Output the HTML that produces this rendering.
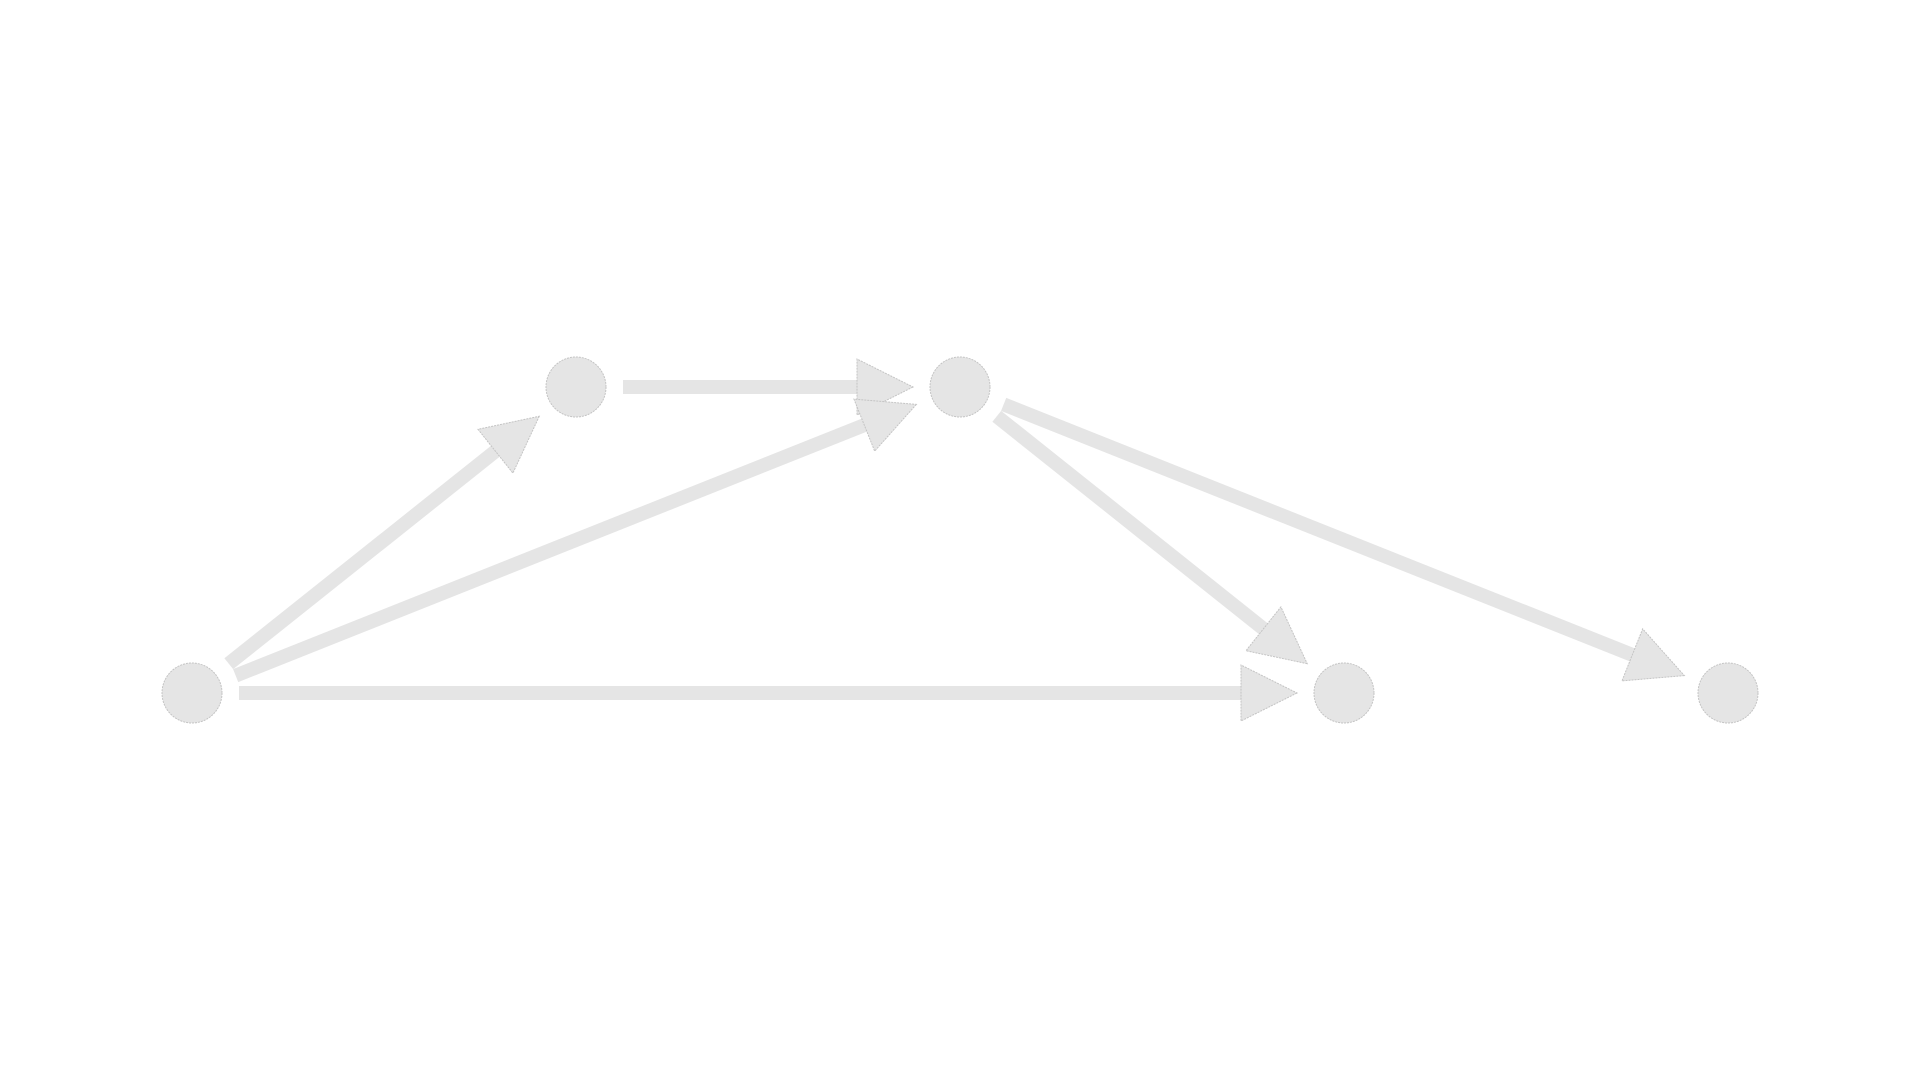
<!DOCTYPE html>
<html><head><meta charset="utf-8"><style>
html,body{margin:0;padding:0;background:#fff;width:1920px;height:1080px;overflow:hidden}
</style></head><body>
<svg id="chart" width="1920" height="1080" viewBox="0 0 1920 1080" xmlns="http://www.w3.org/2000/svg"></svg>
<script>
const nodeNames = ["a","b","c","d","e"];
const nodeCols = [0,1,2,3,4];
const nodeRows = [0,1,1,0,0];
const edgeFrom = [0,1,0,0,2,2];
const edgeTo   = [1,2,2,3,3,4];

function xScale(c){ return 192 + c*384; }
function yScale(r){ return 693 - r*306; }

const svg = document.getElementById('chart');
const NS = 'http://www.w3.org/2000/svg';
const R = 30, GAP = 17, AL = 56, AW = 28, LW = 14;
const fill = '#e5e5e5', stroke = '#c4c4c4';

for (let i=0;i<edgeFrom.length;i++){
  const x1=xScale(nodeCols[edgeFrom[i]]), y1=yScale(nodeRows[edgeFrom[i]]);
  const x2=xScale(nodeCols[edgeTo[i]]), y2=yScale(nodeRows[edgeTo[i]]);
  const dx=x2-x1, dy=y2-y1, L=Math.hypot(dx,dy), ux=dx/L, uy=dy/L, px=-uy, py=ux;
  const sx=x1+ux*(R+GAP), sy=y1+uy*(R+GAP);
  const tx=x2-ux*(R+GAP), ty=y2-uy*(R+GAP);
  const bx=tx-ux*AL, by=ty-uy*AL;
  const g=document.createElementNS(NS,'g');
  
  
  const ln=document.createElementNS(NS,'line');
  ln.setAttribute('x1',sx);ln.setAttribute('y1',sy);
  ln.setAttribute('x2',bx+ux*2);ln.setAttribute('y2',by+uy*2);
  ln.setAttribute('stroke',fill);ln.setAttribute('stroke-width',LW);
  
  
  g.appendChild(ln);
  const p=document.createElementNS(NS,'polygon');
  p.setAttribute('points',[tx,ty,bx+px*AW,by+py*AW,bx-px*AW,by-py*AW].join(' '));
  p.setAttribute('fill',fill);p.setAttribute('stroke',stroke);p.setAttribute('stroke-width','1');
  p.setAttribute('stroke-dasharray','2 1');
  
  
  g.appendChild(p);
  svg.appendChild(g);
}
for (let i=0;i<nodeNames.length;i++){
  const c=document.createElementNS(NS,'circle');
  c.setAttribute('cx',xScale(nodeCols[i]));c.setAttribute('cy',yScale(nodeRows[i]));
  c.setAttribute('r',R);c.setAttribute('fill',fill);
  c.setAttribute('stroke',stroke);c.setAttribute('stroke-width','1');c.setAttribute('stroke-dasharray','2 1');
  
  
  svg.appendChild(c);
}
</script>
</body></html>
